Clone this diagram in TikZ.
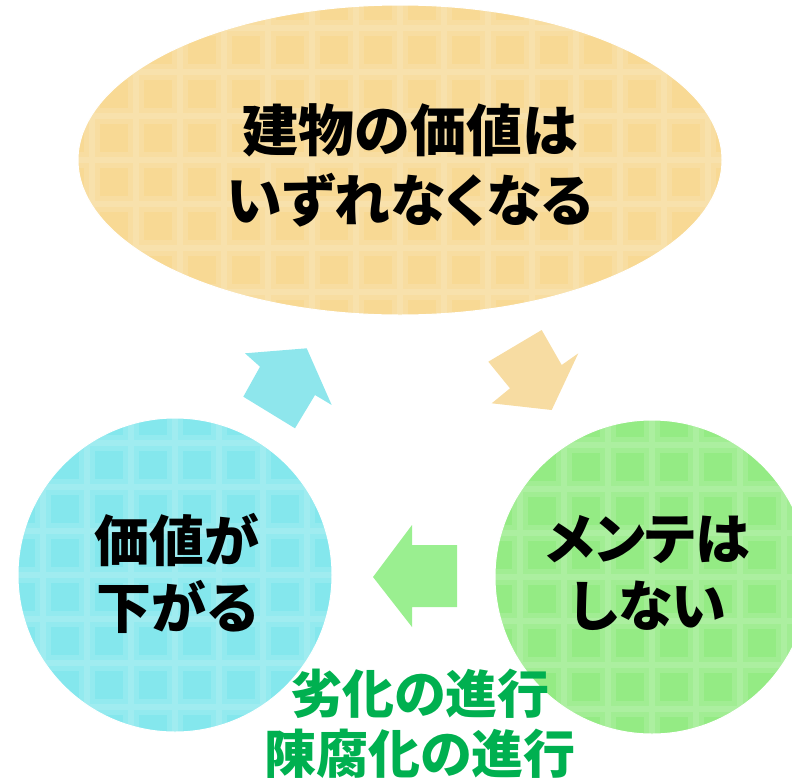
\documentclass[tikz,border=0pt]{standalone}
\usepackage{fontspec}
\newfontfamily\jp{Noto Sans CJK JP}[RawFeature=+palt]
\usetikzlibrary{shapes.geometric}
\definecolor{gold}{HTML}{F8D994}
\definecolor{cyanfill}{HTML}{84E7ED}
\definecolor{greenfill}{HTML}{94EB84}
\definecolor{goldarrow}{HTML}{F7DCA2}
\definecolor{cyanarrow}{HTML}{8EE6EC}
\definecolor{greenarrow}{HTML}{9AEF90}
\definecolor{labelgreen}{HTML}{00B050}
\tikzset{
  blob/.style={inner sep=0pt, draw=white, line width=1pt,
    path picture={
      \draw[white, opacity=0.13, line width=16pt, step=44pt]
        (path picture bounding box.south west) grid (path picture bounding box.north east);
      \draw[white, opacity=0.12, line width=6pt, step=44pt]
        (path picture bounding box.south west) grid (path picture bounding box.north east);}},
  bigtext/.style={font=\jp\bfseries\fontsize{56}{70}\selectfont, align=center, text=black},
  midtext/.style={font=\jp\bfseries\fontsize{55}{67}\selectfont, align=center, text=black},
  greentext/.style={font=\jp\bfseries\fontsize{52}{60}\selectfont, align=center, text=labelgreen},
}
\begin{document}
\begin{tikzpicture}[x=1pt,y=-1pt]
\useasboundingbox (0,0) rectangle (792,782);
% top ellipse
\node[blob, ellipse, fill=gold, minimum width=644pt, minimum height=310pt] (top) at (400,160) {};
\node[bigtext] (toptext) at (410,165) {建物の価値は\\いずれなくなる};
% circles
\node[blob, circle, fill=cyanfill, minimum size=314pt] (left) at (175,575) {};
\node[midtext] (lefttext) at (177,573) {価値が\\下がる};
\node[blob, circle, fill=greenfill, minimum size=314pt] (right) at (652,577) {};
\node[midtext] (righttext) at (648,573) {メンテは\\しない};
% block arrows
\fill[goldarrow] (488.3,361.7) -- (541.7,330) -- (561.7,365) -- (578.3,353.3) -- (551.7,410) -- (491.7,403.3) -- (510,388.3) -- cycle;
\fill[cyanarrow] (306.7,348.3) -- (331.7,405) -- (315,395) -- (295,428.3) -- (243.3,396.7) -- (260,366.7) -- (245,353.3) -- cycle;
\fill[greenarrow] (373,577) -- (412,525) -- (412,545) -- (457,545) -- (457,607) -- (412,607) -- (412,627) -- cycle;
% bottom label
\node[greentext] (label) at (420,724) {劣化の進行\\陳腐化の進行};
\end{tikzpicture}
\end{document}
